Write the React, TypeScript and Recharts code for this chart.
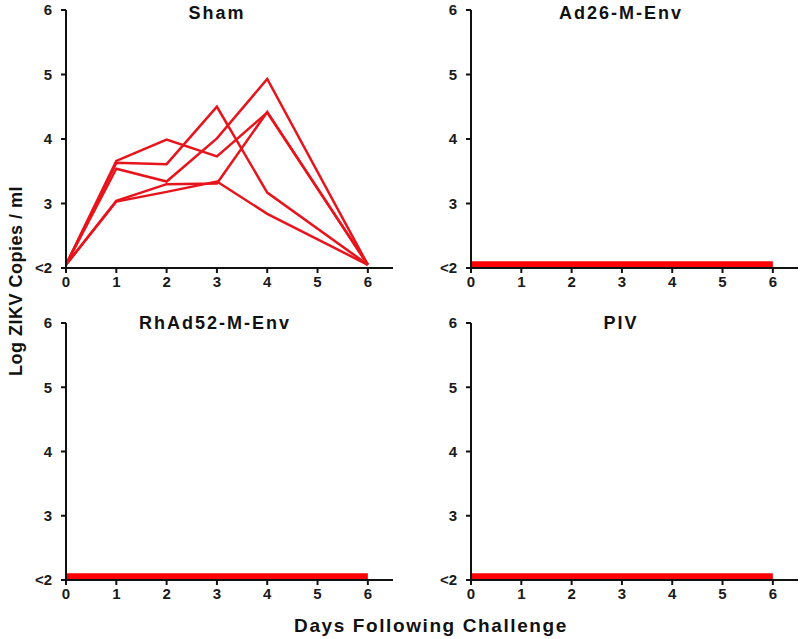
import React from 'react';
import { LineChart, Line, XAxis, YAxis } from 'recharts';

const days = [0, 1, 2, 3, 4, 6];
const dayTicks = [0, 1, 2, 3, 4, 5, 6];
const logTicks = [2, 3, 4, 5, 6];

// Sham animals (log ZIKV copies / ml)
const shamA = [2.05, 3.66, 3.99, 3.73, 4.41, 2.05];
const shamB = [2.05, 3.63, 3.61, 4.5, 3.17, 2.05];
const shamC = [2.05, 3.54, 3.34, 4.01, 4.93, 2.05];
const shamD = [2.05, 3.04, 3.3, 3.31, 4.42, 2.05];
const shamE = [2.05, 3.03, 3.18, 3.34, 2.84, 2.05];

// vaccinated groups: all below limit of detection
const ad26 = [2.05, 2.05, 2.05, 2.05, 2.05, 2.05];
const rhad52 = [2.05, 2.05, 2.05, 2.05, 2.05, 2.05];
const piv = [2.05, 2.05, 2.05, 2.05, 2.05, 2.05];

const shamData = days.map((day, i) => ({
  day,
  a: shamA[i],
  b: shamB[i],
  c: shamC[i],
  d: shamD[i],
  e: shamE[i]
}));
const ad26Data = days.map((day, i) => ({ day, v: ad26[i] }));
const rhad52Data = days.map((day, i) => ({ day, v: rhad52[i] }));
const pivData = days.map((day, i) => ({ day, v: piv[i] }));

const FONT = '"Liberation Sans", Arial, sans-serif';
const tickStyle = { fontSize: 15, fontWeight: 700, fill: '#1a1a1a', fontFamily: FONT };

interface PanelProps {
  data: any[];
  keys: string[];
  lineWidth: number;
  color: string;
  left: number;
  top: number;
  width: number;
  height: number;
  marginTop: number;
  marginRight: number;
  yWidth: number;
  xHeight: number;
}

function Panel(p: PanelProps) {
  return (
    <div style={{ position: 'absolute', left: p.left, top: p.top }}>
      <LineChart
        width={p.width}
        height={p.height}
        data={p.data}
        margin={{ top: p.marginTop, right: p.marginRight, bottom: 0, left: 0 }}
      >
        <XAxis
          dataKey="day"
          type="number"
          domain={[0, 6.5]}
          ticks={dayTicks}
          height={p.xHeight}
          tickSize={5}
          tickMargin={3}
          tick={tickStyle}
          axisLine={{ stroke: '#111', strokeWidth: 2 }}
          tickLine={{ stroke: '#111', strokeWidth: 2 }}
        />
        <YAxis
          type="number"
          domain={[2, 6]}
          ticks={logTicks}
          width={p.yWidth}
          tickSize={5}
          tickMargin={9}
          tick={tickStyle}
          tickFormatter={(v: number) => (v === 2 ? '<2' : String(v))}
          axisLine={{ stroke: '#111', strokeWidth: 2 }}
          tickLine={{ stroke: '#111', strokeWidth: 2 }}
        />
        {p.keys.map((k) => (
          <Line
            key={k}
            type="linear"
            dataKey={k}
            stroke={p.color}
            strokeWidth={p.lineWidth}
            dot={false}
            isAnimationActive={false}
          />
        ))}
      </LineChart>
    </div>
  );
}

function Title({ text, x, y, size = 18, spacing = 2 }: { text: string; x: number; y: number; size?: number; spacing?: number }) {
  return (
    <div
      style={{
        position: 'absolute',
        left: x - 150,
        top: y - size / 2 - 1,
        width: 300,
        textAlign: 'center',
        fontSize: size,
        lineHeight: `${size}px`,
        fontWeight: 700,
        letterSpacing: spacing,
        color: '#111',
        whiteSpace: 'nowrap'
      }}
    >
      {text}
    </div>
  );
}

export default function App() {
  return (
    <div
      style={{
        position: 'absolute',
        left: 0,
        top: 0,
        width: 800,
        height: 639,
        background: '#fff',
        fontFamily: FONT,
        overflow: 'hidden'
      }}
    >
      <Panel data={shamData} keys={['a', 'b', 'c', 'd', 'e']} lineWidth={2.5} color="#e8141c"
        left={0} top={0} width={400} height={300} marginTop={10} marginRight={7} yWidth={66} xHeight={32} />
      <Panel data={ad26Data} keys={['v']} lineWidth={7} color="#ff0000"
        left={400} top={0} width={400} height={300} marginTop={10} marginRight={2} yWidth={71} xHeight={32} />
      <Panel data={rhad52Data} keys={['v']} lineWidth={7} color="#ff0000"
        left={0} top={300} width={400} height={339} marginTop={23} marginRight={7} yWidth={66} xHeight={59} />
      <Panel data={pivData} keys={['v']} lineWidth={7} color="#ff0000"
        left={400} top={300} width={400} height={339} marginTop={23} marginRight={2} yWidth={71} xHeight={59} />

      <Title text="Sham" x={217} y={14} />
      <Title text="Ad26-M-Env" x={621} y={14} />
      <Title text="RhAd52-M-Env" x={215} y={324} />
      <Title text="PIV" x={621} y={324} />
      <Title text="Days Following Challenge" x={431} y={626} size={19} spacing={1.6} />

      <div
        style={{
          position: 'absolute',
          left: 16 - 150,
          top: 281 - 10,
          width: 300,
          height: 20,
          lineHeight: '20px',
          textAlign: 'center',
          fontSize: 18,
          fontWeight: 700,
          letterSpacing: 0.5,
          color: '#111',
          transform: 'rotate(-90deg)',
          whiteSpace: 'nowrap'
        }}
      >
        Log ZIKV Copies / ml
      </div>
    </div>
  );
}
